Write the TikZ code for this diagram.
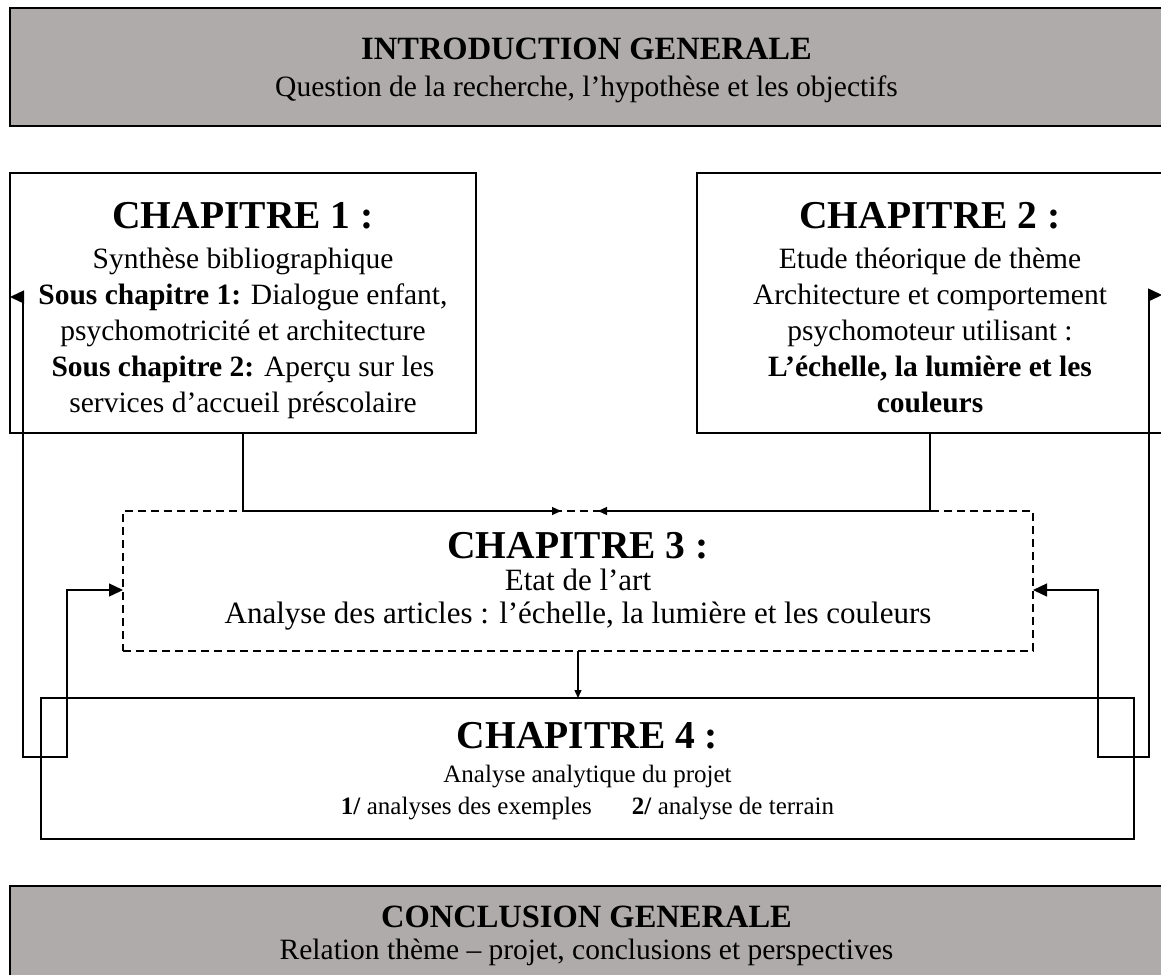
\documentclass[tikz,border=0pt]{standalone}
\usepackage{fontspec}
\setmainfont{Liberation Serif}
\usetikzlibrary{arrows.meta,calc}
\definecolor{boxgray}{RGB}{175,171,170}
\newcommand{\chaphead}[2]{{\bfseries\fontsize{39.5}{40}\selectfont\rule{0pt}{#2}#1}}
\begin{document}
\begin{tikzpicture}[x=1pt,y=-1pt,
  box/.style={draw=black,line width=1.4pt,inner sep=0pt,outer sep=0pt,align=center,
    font=\fontsize{29.5}{36}\selectfont},
  graybox/.style={box,fill=boxgray,line width=2pt},
  dashbox/.style={box,dash pattern=on 8pt off 5pt},
  link/.style={line width=1.4pt},
  looptips/.style={{Triangle[length=14pt,width=13pt]}-{Triangle[length=14pt,width=13pt]}},
  smalltip/.style={-{Triangle[length=9pt,width=8pt]}}
]
\useasboundingbox (0,0) rectangle (1161,974);

% general introduction band
\node[graybox,minimum width=1153pt,minimum height=118pt] (intro) at (586.5,67)
  {{\bfseries\fontsize{32.5}{36}\selectfont\rule{0pt}{27.5pt}INTRODUCTION GENERALE}\\[1pt]
   Question de la recherche, l’hypothèse et les objectifs};

% chapter 1
\node[box,minimum width=466pt,minimum height=260pt] (ch1) at (243,303)
  {\chaphead{CHAPITRE 1 :}{40.5pt}\\[4pt]
   Synthèse bibliographique\\
   \textbf{Sous chapitre 1:} Dialogue enfant,\\
   psychomotricité et architecture\\
   \textbf{Sous chapitre 2:} Aperçu sur les\\
   services d’accueil préscolaire};

% chapter 2
\node[box,minimum width=466pt,minimum height=260pt] (ch2) at (930,303)
  {\chaphead{CHAPITRE 2 :}{40.5pt}\\[4pt]
   Etude théorique de thème\\
   Architecture et comportement\\
   psychomoteur utilisant :\\
   \textbf{L’échelle, la lumière et les}\\
   \rule[-6.4pt]{0pt}{6.4pt}\textbf{couleurs}};

% chapter 3 (dashed)
\node[dashbox,minimum width=910pt,minimum height=140pt,
      font=\fontsize{31}{33}\selectfont] (ch3) at (578,581)
  {\chaphead{CHAPITRE 3 :}{26.7pt}\\[-1pt]
   Etat de l’art\\
   Analyse des articles : l’échelle, la lumière et les couleurs};

% chapter 4
\node[box,minimum width=1093pt,minimum height=141pt,
      font=\fontsize{25}{32}\selectfont] (ch4) at (587.5,768.5)
  {\chaphead{CHAPITRE 4 :}{30.5pt}\\[2pt]
   Analyse analytique du projet\\
   \textbf{1/} analyses des exemples\hspace{40pt}\textbf{2/} analyse de terrain};

% general conclusion band
\node[graybox,minimum width=1153pt,minimum height=99pt] (concl) at (586.5,935.5)
  {{\bfseries\fontsize{32.5}{36}\selectfont CONCLUSION GENERALE}\\[-4pt]
   Relation thème – projet, conclusions et perspectives};

% corner points of the feedback loops
\coordinate (la) at (23,297);
\coordinate (lb) at (23,757);
\coordinate (lc) at (67,757);
\coordinate (ld) at (67,590);
\coordinate (ra) at (1149,295);
\coordinate (rb) at (1149,757);
\coordinate (rc) at (1098,757);
\coordinate (rd) at (1098,590);
\coordinate (re) at (1162,295);
\coordinate (t1) at ($(ch3.north)+(-17,0)$);
\coordinate (t2) at ($(ch3.north)+(20,0)$);

% chapters 1 and 2 feed chapter 3
\draw[link,smalltip] (ch1.south) |- (t1);
\draw[link,smalltip] (ch2.south) |- (t2);

% chapter 3 feeds chapter 4
\draw[link,-{Triangle[length=8pt,width=7pt]}] (ch3.south) -- (ch3.south |- ch4.north);

% left loop back to chapters 1 and 3
\draw[link,looptips]
  (ch1.west |- la) -- (la) -- (lb) -- (lc) -- (ld) -- (ch3.west |- ld);

% right loop back to chapters 2 and 3
\draw[link,looptips]
  (re) -- (ra) -- (rb) -- (rc) -- (rd) -- (ch3.east |- rd);
\end{tikzpicture}
\end{document}
